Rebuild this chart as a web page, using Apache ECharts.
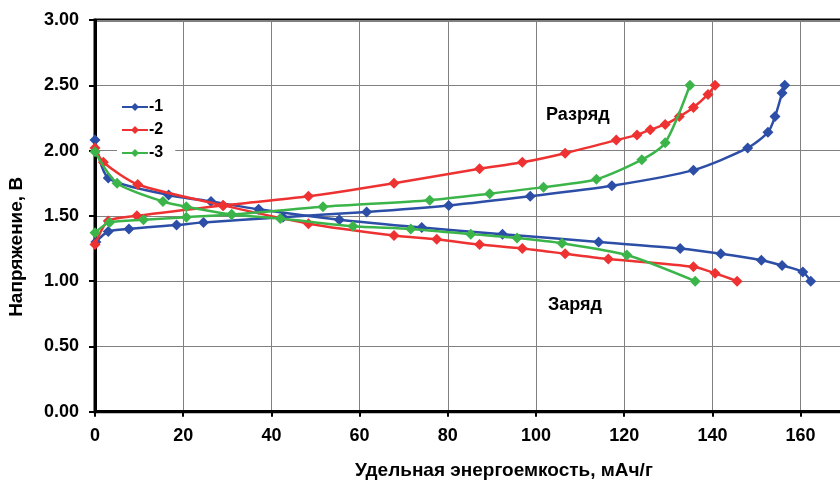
<!DOCTYPE html>
<html>
<head>
<meta charset="utf-8">
<script src="https://cdn.jsdelivr.net/npm/echarts@6/dist/echarts.min.js"></script>
<style>
  html, body { margin: 0; padding: 0; background: #fff; }
  #chart { width: 840px; height: 482px; }
</style>
</head>
<body>
<div id="chart"></div>
<script>
// Cell 1 (blue): rising branch "Разряд" and falling branch "Заряд"
const razryadX1 = [0.2, 3.0, 7.7, 18.5, 24.6, 42.6, 61.6, 80.2, 98.7, 117.2, 135.7, 148.0, 152.6, 154.2, 155.8, 156.4];
const razryadY1 = [1.30, 1.38, 1.40, 1.43, 1.45, 1.49, 1.53, 1.58, 1.65, 1.73, 1.85, 2.02, 2.14, 2.26, 2.44, 2.50];
const zaryadX1 = [0, 3.0, 16.7, 26.3, 37.1, 55.4, 74.1, 92.4, 114.2, 132.7, 141.9, 151.1, 155.8, 160.5, 162.3];
const zaryadY1 = [2.08, 1.79, 1.66, 1.61, 1.55, 1.47, 1.41, 1.36, 1.30, 1.25, 1.21, 1.16, 1.12, 1.07, 1.00];

// Cell 2 (red)
const razryadX2 = [0, 3.0, 9.5, 29.0, 48.4, 67.8, 87.2, 96.9, 106.6, 118.2, 122.9, 125.9, 129.3, 132.5, 135.7, 139.0, 140.6];
const razryadY2 = [1.28, 1.46, 1.50, 1.58, 1.65, 1.75, 1.86, 1.91, 1.98, 2.08, 2.12, 2.16, 2.20, 2.26, 2.33, 2.43, 2.50];
const zaryadX2 = [0, 1.9, 9.7, 29.1, 48.4, 67.8, 77.5, 87.2, 96.9, 106.6, 116.4, 135.7, 140.6, 145.6];
const zaryadY2 = [2.02, 1.91, 1.74, 1.58, 1.44, 1.35, 1.32, 1.28, 1.25, 1.21, 1.17, 1.11, 1.06, 1.00];

// Cell 3 (green)
const razryadX3 = [0, 3.3, 11.0, 20.7, 31.0, 51.7, 75.9, 89.5, 101.7, 113.7, 124.0, 129.3, 134.9];
const razryadY3 = [1.37, 1.45, 1.47, 1.49, 1.51, 1.57, 1.62, 1.67, 1.72, 1.78, 1.93, 2.06, 2.50];
const zaryadX3 = [0, 5.0, 15.4, 20.7, 31.0, 42.0, 58.5, 71.6, 85.2, 95.7, 105.9, 120.6, 136.1];
const zaryadY3 = [1.99, 1.75, 1.61, 1.57, 1.51, 1.48, 1.42, 1.40, 1.36, 1.33, 1.29, 1.20, 1.00];

const seriesNames = ['-1', '-2', '-3'];
const seriesColors = ['#2c4ea6', '#ee3232', '#3bb54a'];

const xTitle = 'Удельная энергоемкость, мАч/г';
const yTitle = 'Напряжение, В';
const labelUp = 'Разряд';
const labelDown = 'Заряд';

const FONT = '"Liberation Sans", Arial, sans-serif';

function pairs(xs, ys) { return xs.map((x, i) => [x, ys[i]]); }

const curves = [
  [razryadX1, razryadY1, zaryadX1, zaryadY1],
  [razryadX2, razryadY2, zaryadX2, zaryadY2],
  [razryadX3, razryadY3, zaryadX3, zaryadY3]
];

const series = [];
curves.forEach((c, i) => {
  [[c[0], c[1]], [c[2], c[3]]].forEach(([xs, ys]) => {
    series.push({
      name: seriesNames[i],
      type: 'line',
      data: pairs(xs, ys),
      smooth: 0.25,
      symbol: 'diamond',
      symbolSize: 11,
      showSymbol: true,
      color: seriesColors[i],
      lineStyle: { width: 2.5, color: seriesColors[i] },
      itemStyle: { color: seriesColors[i] },
      z: 3 + i
    });
  });
});

const chart = echarts.init(document.getElementById('chart'), null, { renderer: 'canvas' });
chart.setOption({
  animation: false,
  backgroundColor: '#fff',
  grid: {
    left: 95, top: 20, width: 749.7, height: 391.7,
    outerBoundsMode: 'none',
    containLabel: false,
    show: true, borderColor: '#000', borderWidth: 3, backgroundColor: '#fff'
  },
  legend: {
    orient: 'vertical',
    left: 117, top: 97,
    itemWidth: 26, itemHeight: 10, itemGap: 7,
    backgroundColor: '#fff',
    padding: [2, 12, 4, 4],
    textStyle: { fontFamily: FONT, fontWeight: 'bold', fontSize: 16, color: '#000', padding: [0, 0, 0, -4] },
    data: seriesNames
  },
  xAxis: {
    type: 'value', min: 0, max: 170, interval: 20,
    axisLine: { show: true, lineStyle: { color: '#000', width: 3 } },
    axisTick: { show: true, length: 5, lineStyle: { color: '#000', width: 2 } },
    axisLabel: {
      margin: 15, fontFamily: FONT, fontWeight: 'bold', fontSize: 18, color: '#000',
      formatter: v => (v > 160 ? '' : String(v))
    },
    splitLine: { show: true, lineStyle: { color: '#808080', width: 1 } },
    name: xTitle, nameLocation: 'middle', nameGap: 50,
    nameTextStyle: { fontFamily: FONT, fontWeight: 'bold', fontSize: 19, color: '#000', padding: [0, 0, 0, 68] }
  },
  yAxis: {
    type: 'value', min: 0, max: 3, interval: 0.5,
    axisLine: { show: true, lineStyle: { color: '#000', width: 3 } },
    axisTick: { show: true, length: 6, lineStyle: { color: '#000', width: 2 } },
    axisLabel: {
      margin: 16, fontFamily: FONT, fontWeight: 'bold', fontSize: 18, color: '#000',
      formatter: v => v.toFixed(2)
    },
    splitLine: { show: true, lineStyle: { color: '#808080', width: 1 } },
    name: yTitle, nameLocation: 'middle', nameGap: 69, nameRotate: 90,
    nameTextStyle: { fontFamily: FONT, fontWeight: 'bold', fontSize: 19, color: '#000', padding: [0, 0, 0, -62] }
  },
  graphic: [
    { type: 'text', left: 546, top: 106, style: { text: labelUp, font: 'bold 18px ' + FONT, fill: '#000' } },
    { type: 'text', left: 548, top: 296, style: { text: labelDown, font: 'bold 18px ' + FONT, fill: '#000' } }
  ],
  series: series
});
</script>
</body>
</html>
